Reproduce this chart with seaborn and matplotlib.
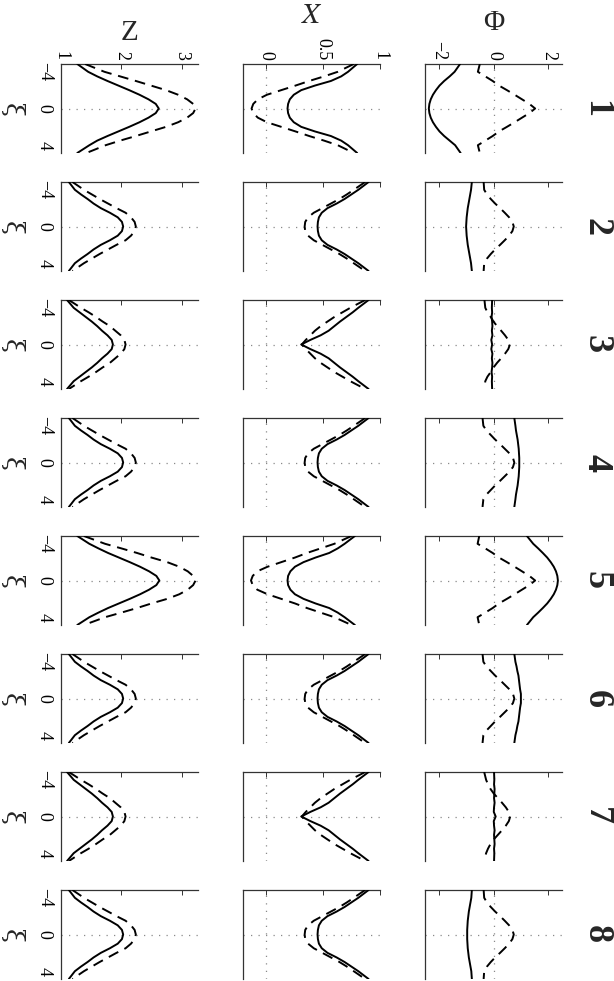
import matplotlib
matplotlib.use("Agg")
import matplotlib.pyplot as plt
import seaborn as sns

# xi grid shared by all profiles
XI = [-4.85, -4, -3.5, -3, -2.5, -2, -1.5, -1, -0.5, 0, 0.5, 1, 1.5, 2, 2.5, 3, 3.5, 4, 4.85]

# Z profiles, one list per panel row (1..8)
Z_SOLID = [
    [1.27, 1.45, 1.60, 1.77, 1.95, 2.13, 2.30, 2.45, 2.57, 2.62, 2.57, 2.45, 2.30, 2.13, 1.95, 1.77, 1.60, 1.47, 1.27],
    [1.13, 1.23, 1.33, 1.44, 1.54, 1.66, 1.81, 1.94, 2.01, 2.03, 2.01, 1.94, 1.81, 1.66, 1.54, 1.44, 1.33, 1.23, 1.13],
    [1.10, 1.21, 1.31, 1.41, 1.51, 1.60, 1.68, 1.77, 1.84, 1.86, 1.84, 1.77, 1.68, 1.60, 1.51, 1.41, 1.31, 1.21, 1.10],
    [1.13, 1.23, 1.33, 1.44, 1.54, 1.66, 1.81, 1.94, 2.01, 2.03, 2.01, 1.94, 1.81, 1.66, 1.54, 1.44, 1.33, 1.23, 1.13],
    [1.27, 1.47, 1.62, 1.78, 1.96, 2.14, 2.31, 2.46, 2.58, 2.63, 2.58, 2.46, 2.31, 2.14, 1.96, 1.78, 1.62, 1.47, 1.27],
    [1.13, 1.23, 1.33, 1.44, 1.54, 1.66, 1.81, 1.94, 2.01, 2.03, 2.01, 1.94, 1.81, 1.66, 1.54, 1.44, 1.33, 1.23, 1.13],
    [1.10, 1.21, 1.31, 1.41, 1.51, 1.60, 1.68, 1.77, 1.84, 1.86, 1.84, 1.77, 1.68, 1.60, 1.51, 1.41, 1.31, 1.21, 1.10],
    [1.13, 1.23, 1.33, 1.44, 1.54, 1.66, 1.81, 1.94, 2.01, 2.03, 2.01, 1.94, 1.81, 1.66, 1.54, 1.44, 1.33, 1.23, 1.13],
]
Z_DASHED = [
    [1.40, 1.72, 1.98, 2.24, 2.49, 2.74, 2.94, 3.09, 3.19, 3.23, 3.19, 3.09, 2.94, 2.74, 2.49, 2.24, 1.98, 1.74, 1.42],
    [1.19, 1.38, 1.51, 1.64, 1.78, 1.92, 2.07, 2.16, 2.22, 2.24, 2.22, 2.16, 2.07, 1.92, 1.78, 1.64, 1.51, 1.38, 1.19],
    [1.13, 1.33, 1.46, 1.58, 1.69, 1.81, 1.90, 1.99, 2.05, 2.07, 2.05, 1.99, 1.90, 1.81, 1.69, 1.58, 1.46, 1.33, 1.13],
    [1.19, 1.38, 1.51, 1.64, 1.78, 1.92, 2.07, 2.16, 2.22, 2.24, 2.22, 2.16, 2.07, 1.92, 1.78, 1.64, 1.51, 1.38, 1.19],
    [1.38, 1.73, 2.00, 2.26, 2.50, 2.76, 2.96, 3.10, 3.19, 3.23, 3.19, 3.10, 2.96, 2.76, 2.50, 2.26, 2.00, 1.73, 1.38],
    [1.19, 1.38, 1.51, 1.64, 1.78, 1.92, 2.07, 2.16, 2.22, 2.24, 2.22, 2.16, 2.07, 1.92, 1.78, 1.64, 1.51, 1.38, 1.19],
    [1.13, 1.33, 1.46, 1.58, 1.69, 1.81, 1.90, 1.99, 2.05, 2.07, 2.05, 1.99, 1.90, 1.81, 1.69, 1.58, 1.46, 1.33, 1.13],
    [1.19, 1.38, 1.51, 1.64, 1.78, 1.92, 2.07, 2.16, 2.22, 2.24, 2.22, 2.16, 2.07, 1.92, 1.78, 1.64, 1.51, 1.38, 1.19],
]

# X profiles
X_SOLID = [
    [0.80, 0.72, 0.66, 0.57, 0.43, 0.31, 0.245, 0.21, 0.195, 0.19, 0.195, 0.21, 0.245, 0.31, 0.43, 0.57, 0.66, 0.72, 0.80],
    [0.90, 0.81, 0.75, 0.69, 0.62, 0.54, 0.49, 0.465, 0.456, 0.453, 0.456, 0.465, 0.49, 0.54, 0.62, 0.69, 0.75, 0.81, 0.90],
    [0.90, 0.81, 0.76, 0.705, 0.65, 0.60, 0.55, 0.48, 0.39, 0.31, 0.39, 0.48, 0.55, 0.60, 0.65, 0.705, 0.76, 0.81, 0.90],
    [0.90, 0.81, 0.75, 0.69, 0.62, 0.54, 0.49, 0.465, 0.456, 0.453, 0.456, 0.465, 0.49, 0.54, 0.62, 0.69, 0.75, 0.81, 0.90],
    [0.78, 0.69, 0.63, 0.555, 0.435, 0.33, 0.255, 0.215, 0.195, 0.19, 0.195, 0.215, 0.255, 0.33, 0.435, 0.555, 0.63, 0.69, 0.78],
    [0.90, 0.81, 0.75, 0.69, 0.62, 0.54, 0.49, 0.465, 0.456, 0.453, 0.456, 0.465, 0.49, 0.54, 0.62, 0.69, 0.75, 0.81, 0.90],
    [0.90, 0.81, 0.76, 0.705, 0.65, 0.60, 0.55, 0.48, 0.39, 0.31, 0.39, 0.48, 0.55, 0.60, 0.65, 0.705, 0.76, 0.81, 0.90],
    [0.90, 0.81, 0.75, 0.69, 0.62, 0.54, 0.49, 0.465, 0.456, 0.453, 0.456, 0.465, 0.49, 0.54, 0.62, 0.69, 0.75, 0.81, 0.90],
]
X_DASHED = [
    [0.77, 0.63, 0.51, 0.38, 0.26, 0.135, 0.01, -0.07, -0.11, -0.125, -0.11, -0.07, 0.01, 0.135, 0.26, 0.38, 0.51, 0.63, 0.77],
    [0.87, 0.77, 0.71, 0.645, 0.57, 0.495, 0.42, 0.37, 0.345, 0.34, 0.345, 0.37, 0.42, 0.495, 0.57, 0.645, 0.71, 0.77, 0.87],
    [0.87, 0.74, 0.67, 0.60, 0.54, 0.48, 0.43, 0.39, 0.35, 0.315, 0.35, 0.39, 0.43, 0.48, 0.54, 0.60, 0.67, 0.74, 0.87],
    [0.87, 0.77, 0.71, 0.645, 0.57, 0.495, 0.42, 0.37, 0.345, 0.34, 0.345, 0.37, 0.42, 0.495, 0.57, 0.645, 0.71, 0.77, 0.87],
    [0.75, 0.60, 0.48, 0.36, 0.255, 0.135, 0.015, -0.075, -0.115, -0.13, -0.115, -0.075, 0.015, 0.135, 0.255, 0.36, 0.48, 0.60, 0.75],
    [0.87, 0.77, 0.71, 0.645, 0.57, 0.495, 0.42, 0.37, 0.345, 0.34, 0.345, 0.37, 0.42, 0.495, 0.57, 0.645, 0.71, 0.77, 0.87],
    [0.87, 0.74, 0.67, 0.60, 0.54, 0.48, 0.43, 0.39, 0.35, 0.315, 0.35, 0.39, 0.43, 0.48, 0.54, 0.60, 0.67, 0.74, 0.87],
    [0.87, 0.77, 0.71, 0.645, 0.57, 0.495, 0.42, 0.37, 0.345, 0.34, 0.345, 0.37, 0.42, 0.495, 0.57, 0.645, 0.71, 0.77, 0.87],
]

# Phi profiles
PHI_SOLID = [
    [-1.22, -1.42, -1.60, -1.80, -1.97, -2.10, -2.21, -2.29, -2.34, -2.36, -2.34, -2.29, -2.21, -2.10, -1.97, -1.80, -1.60, -1.40, -1.20],
    [-0.79, -0.82, -0.85, -0.88, -0.91, -0.94, -0.96, -0.98, -0.99, -1.00, -0.99, -0.98, -0.96, -0.94, -0.91, -0.88, -0.85, -0.82, -0.79],
    [-0.05, -0.06, -0.05, -0.07, -0.05, -0.04, -0.06, -0.04, -0.08, -0.05, -0.08, -0.04, -0.06, -0.04, -0.05, -0.07, -0.05, -0.06, -0.05],
    [0.76, 0.80, 0.82, 0.85, 0.88, 0.90, 0.92, 0.93, 0.94, 0.94, 0.94, 0.93, 0.92, 0.90, 0.88, 0.85, 0.82, 0.80, 0.76],
    [1.22, 1.45, 1.63, 1.80, 1.96, 2.09, 2.20, 2.28, 2.33, 2.35, 2.33, 2.28, 2.20, 2.09, 1.96, 1.80, 1.63, 1.45, 1.22],
    [0.76, 0.80, 0.84, 0.87, 0.91, 0.93, 0.95, 0.97, 1.00, 1.00, 1.00, 0.97, 0.95, 0.93, 0.91, 0.87, 0.84, 0.80, 0.76],
    [0.02, 0.03, 0.02, 0.04, 0.03, 0.02, 0.04, 0.02, 0.01, 0.08, 0.01, 0.02, 0.04, 0.02, 0.03, 0.04, 0.02, 0.03, 0.02],
    [-0.79, -0.81, -0.84, -0.87, -0.90, -0.92, -0.94, -0.95, -0.96, -0.96, -0.96, -0.95, -0.94, -0.92, -0.90, -0.87, -0.84, -0.81, -0.79],
]
PHI_DASHED = [
    [-0.50, -0.57, -0.30, -0.03, 0.20, 0.49, 0.77, 1.04, 1.31, 1.52, 1.31, 1.04, 0.77, 0.49, 0.20, -0.03, -0.30, -0.57, -0.50],
    [-0.36, -0.34, -0.24, -0.10, 0.06, 0.24, 0.41, 0.57, 0.69, 0.74, 0.69, 0.57, 0.41, 0.24, 0.06, -0.10, -0.24, -0.34, -0.36],
    [-0.33, -0.30, -0.22, -0.10, 0.00, 0.13, 0.28, 0.42, 0.54, 0.60, 0.54, 0.42, 0.28, 0.13, 0.00, -0.10, -0.22, -0.30, -0.33],
    [-0.40, -0.37, -0.26, -0.10, 0.06, 0.24, 0.41, 0.58, 0.71, 0.76, 0.71, 0.58, 0.41, 0.24, 0.06, -0.10, -0.26, -0.37, -0.40],
    [-0.52, -0.58, -0.30, -0.03, 0.20, 0.49, 0.77, 1.04, 1.31, 1.52, 1.31, 1.04, 0.77, 0.49, 0.20, -0.03, -0.30, -0.58, -0.52],
    [-0.40, -0.37, -0.26, -0.10, 0.06, 0.24, 0.41, 0.58, 0.71, 0.76, 0.71, 0.58, 0.41, 0.24, 0.06, -0.10, -0.26, -0.37, -0.40],
    [-0.34, -0.27, -0.20, -0.11, 0.01, 0.16, 0.31, 0.45, 0.56, 0.61, 0.56, 0.45, 0.31, 0.16, 0.01, -0.11, -0.20, -0.27, -0.34],
    [-0.36, -0.34, -0.24, -0.10, 0.06, 0.24, 0.41, 0.57, 0.69, 0.74, 0.69, 0.57, 0.41, 0.24, 0.06, -0.10, -0.24, -0.34, -0.36],
]

COL_LABELS = ["Z", "$X$", "Φ"]
COL_TICKS = [[1, 2, 3], [0, 0.5, 1], [-2, 0, 2]]
COL_TICKLABELS = [["1", "2", "3"], ["0", "0.5", "1"], ["−2", "0", "2"]]
XI_TICKS = [-4, 0, 4]
XI_TICKLABELS = ["−4", "0", "4"]
ROW_LABELS = ["1", "2", "3", "4", "5", "6", "7", "8"]

sns.set_theme(style="white")
plt.rcParams["font.family"] = ["Liberation Serif", "DejaVu Serif"]
plt.rcParams["mathtext.fontset"] = "stix"

W, H = 614, 981
fig = plt.figure(figsize=(W / 100, H / 100), dpi=100)

col_left = [61, 243, 425]
col_w = 137
row_top0, row_step, row_h = 64, 118, 89
xlims = [(1, 3.27), (-0.2, 1.0), (-2.5, 2.5)]
label_y = [33, 16, 23]
dash = (0, (5.5, 3.5))
dot = (0, (1, 5))

data = [(Z_SOLID, Z_DASHED), (X_SOLID, X_DASHED), (PHI_SOLID, PHI_DASHED)]

for r in range(8):
    top = row_top0 + r * row_step
    for c in range(3):
        ax = fig.add_axes([col_left[c] / W, 1 - (top + row_h) / H, col_w / W, row_h / H])
        ax.set_facecolor("white")
        ax.axhline(0, color="#8a8a8a", lw=0.9, ls=dot, zorder=1)
        if c > 0:
            ax.axvline(0, color="#8a8a8a", lw=0.9, ls=dot, zorder=1)
        solid, dashed = data[c]
        sns.lineplot(x=solid[r], y=XI, orient="y", sort=True, estimator=None,
                     color="black", lw=1.4, ax=ax, zorder=3)
        sns.lineplot(x=dashed[r], y=XI, orient="y", sort=True, estimator=None,
                     color="black", lw=1.4, linestyle=dash, ax=ax, zorder=3)
        ax.set_xlim(*xlims[c])
        ax.set_ylim(4.85, -4.85)
        ax.set_xlabel("")
        ax.set_ylabel("")
        for side in ["right", "bottom"]:
            ax.spines[side].set_visible(False)
        for side in ["left", "top"]:
            ax.spines[side].set_visible(True)
            ax.spines[side].set_color("#333333")
            ax.spines[side].set_linewidth(0.9)
        ax.xaxis.tick_top()
        ax.set_xticks(COL_TICKS[c])
        ax.set_yticks(XI_TICKS)
        ax.tick_params(direction="in", length=3.5, width=0.7, colors="#333333")
        if r == 0:
            ax.set_xticklabels(COL_TICKLABELS[c], rotation=-90, fontsize=13, color="black")
            ax.tick_params(axis="x", pad=3, labeltop=True)
        else:
            ax.tick_params(axis="x", labeltop=False)
        if c == 0:
            ax.set_yticklabels(XI_TICKLABELS, rotation=-90, fontsize=13, color="black", va="center")
            ax.tick_params(axis="y", pad=6, labelleft=True)
            fig.text(12 / W, 1 - (top + row_h / 2 + 1) / H, "ξ", rotation=-90,
                     fontsize=18, ha="center", va="center", family=["DejaVu Serif"])
        else:
            ax.tick_params(axis="y", labelleft=False)
        if r == 0:
            fig.text((col_left[c] + col_w / 2) / W, 1 - label_y[c] / H, COL_LABELS[c],
                     fontsize=21, ha="center", va="center")
    fig.text(596 / W, 1 - (top + row_h / 2) / H, ROW_LABELS[r], rotation=-90,
             fontsize=26, fontweight="bold", ha="center", va="center")

fig.savefig("out.png", dpi=100, facecolor="white")
